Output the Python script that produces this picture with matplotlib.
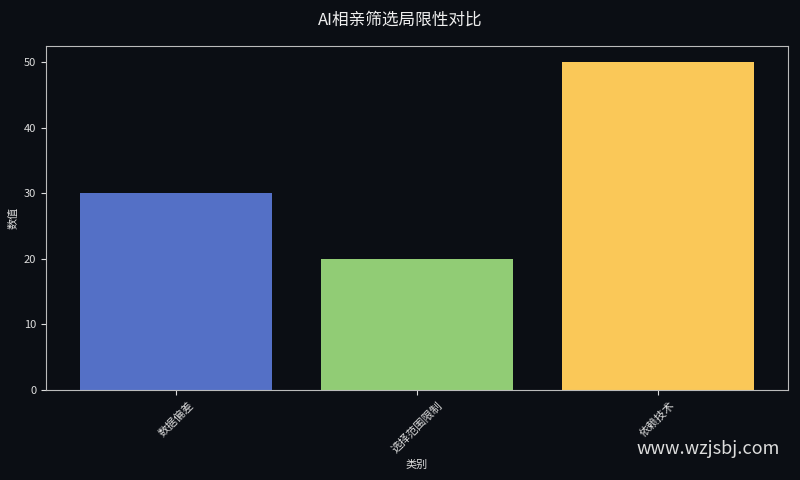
import matplotlib
matplotlib.use("Agg")
import matplotlib.pyplot as plt

plt.rcParams['font.family'] = ['Noto Sans CJK SC', 'DejaVu Sans']

categories = ["数据偏差", "选择范围限制", "依赖技术"]
values = [30, 20, 50]
colors = ["#5470c6", "#91cc75", "#fac858"]

bg = "#0b0e14"
fig = plt.figure(figsize=(8, 4.8), dpi=100, facecolor=bg)
ax = fig.add_axes([0.0575, 0.1875, 0.9275, 0.7165])
ax.set_facecolor(bg)

ax.bar(categories, values, color=colors, width=0.8)
ax.set_ylim(0, 52.5)

for s in ax.spines.values():
    s.set_color("#bbbbbb")
ax.tick_params(colors="#dddddd", labelsize=8)
plt.setp(ax.get_xticklabels(), rotation=45)
ax.set_xlabel("类别", color="#dddddd", fontsize=8)
ax.set_ylabel("数值", color="#dddddd", fontsize=8)
fig.suptitle("AI相亲筛选局限性对比", color="#eeeeee", fontsize=12, y=0.975)

fig.text(0.975, 0.065, "www.wzjsbj.com", color="#dddddd", fontsize=13,
         ha="right", va="center")

fig.savefig("out.png", facecolor=bg)
